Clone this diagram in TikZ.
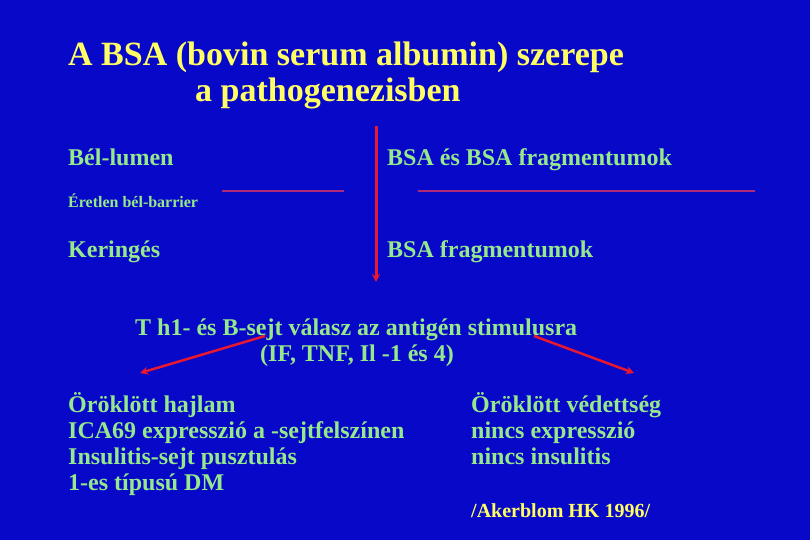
\documentclass[tikz,border=0pt]{standalone}
\usepackage{fontspec}
\setmainfont{Liberation Serif}
\usetikzlibrary{arrows.meta}

\definecolor{slideblue}{RGB}{8,8,200}
\definecolor{txtgreen}{RGB}{150,232,140}
\definecolor{ttlyellow}{RGB}{255,255,100}
\definecolor{arrred}{RGB}{232,24,48}
\definecolor{barpurple}{RGB}{176,40,120}

\tikzset{
  ttl/.style={anchor=base west, inner sep=0pt, text=ttlyellow, font=\fontsize{34}{38}\selectfont\bfseries},
  lbl/.style={anchor=base west, inner sep=0pt, text=txtgreen, font=\fontsize{24}{28}\selectfont\bfseries},
  small/.style={anchor=base west, inner sep=0pt, text=txtgreen, font=\fontsize{16}{18}\selectfont\bfseries},
  redarr/.style={arrred, line width=3pt, -{Stealth[length=8pt,width=8pt]}},
}

\begin{document}
\begin{tikzpicture}[x=1pt,y=-1pt]
    \fill[slideblue] (0,0) rectangle (810,540);
    \useasboundingbox (0,0) rectangle (810,540);

    % title
    \node[ttl] (title1) at (68,66) {A BSA (bovin serum albumin) szerepe};
    \node[ttl] (title2) at (195,102) {a pathogenezisben};

    % upper part
    \node[lbl] (lumen) at (68,165) {Bél-lumen};
    \node[lbl] (bsaboth) at (387,165) {BSA és BSA fragmentumok};
    \node[small] (barrier) at (68,207) {Éretlen bél-barrier};
    \node[lbl] (kering) at (68,257) {Keringés};
    \node[lbl] (bsafrag) at (387,257) {BSA fragmentumok};

    \coordinate (barAl) at (222,191);
    \coordinate (barAr) at (344,191);
    \coordinate (barBl) at (418,191);
    \coordinate (barBr) at (755,191);
    \draw[barpurple, line width=2pt] (barAl)--(barAr);
    \draw[barpurple, line width=2pt] (barBl)--(barBr);

    \coordinate (vtop) at (376,126);
    \coordinate (vbot) at (376,282);
    \draw[redarr] (vtop)--(vbot);

    % response
    \node[lbl] (resp) at (135,335) {T h1- és B-sejt válasz az antigén stimulusra};
    \node[lbl] (cyto) at (260,361) {(IF, TNF, Il -1 és 4)};

    \coordinate (lfrom) at (265,336);
    \coordinate (lto) at (140,373);
    \coordinate (rfrom) at (534,336);
    \coordinate (rto) at (634,373);
    \draw[redarr, line width=2.5pt] (lfrom)--(lto);
    \draw[redarr, line width=2.5pt] (rfrom)--(rto);

    % outcomes
    \node[lbl] (prone1) at (68,412) {Öröklött hajlam};
    \node[lbl] (prone2) at (68,438) {ICA69 expresszió a -sejtfelszínen};
    \node[lbl] (prone3) at (68,464) {Insulitis-sejt pusztulás};
    \node[lbl] (prone4) at (68,490) {1-es típusú DM};
    \node[lbl] (prot1) at (471,412) {Öröklött védettség};
    \node[lbl] (prot2) at (471,438) {nincs expresszió};
    \node[lbl] (prot3) at (471,464) {nincs insulitis};
    \node[anchor=base west, inner sep=0pt, text=ttlyellow, font=\fontsize{20}{24}\selectfont\bfseries] (ref) at (471,517) {/Akerblom HK 1996/};
\end{tikzpicture}
\end{document}
